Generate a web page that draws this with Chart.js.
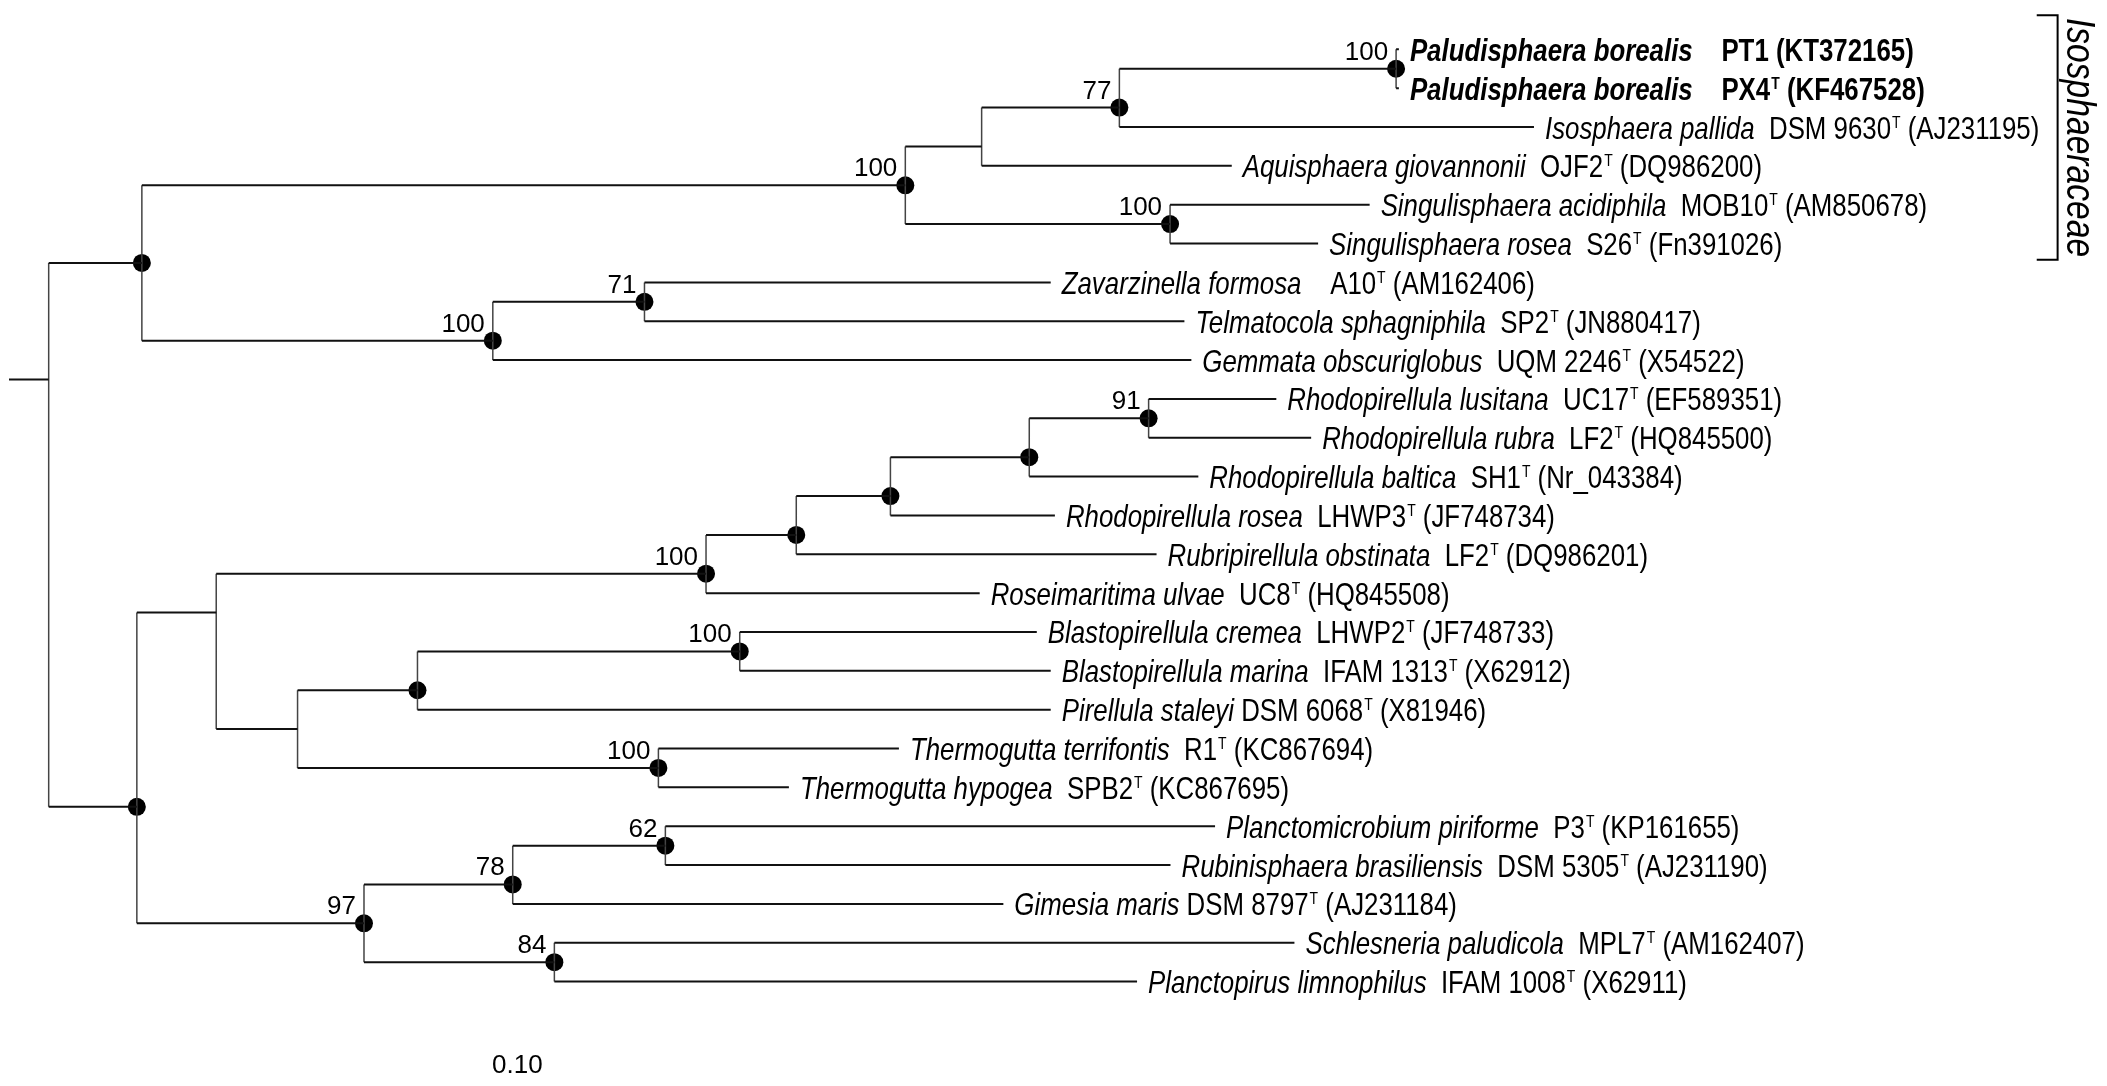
<!DOCTYPE html>
<html>
<head>
<meta charset="utf-8">
<title>Planctomycetes 16S rRNA tree</title>
<script src="https://cdn.jsdelivr.net/npm/chart.js@4.4.1/dist/chart.umd.min.js"></script>
<style>
  html, body { margin: 0; padding: 0; background: #fff; }
  #wrap { width: 2107px; height: 1086px; position: relative; }
</style>
</head>
<body>
<div id="wrap"><canvas id="treeChart"></canvas></div>
<script>
// Leaves, top to bottom (row index = y value)
const leafNames = [
    'Paludisphaera borealis', 'Paludisphaera borealis', 'Isosphaera pallida', 'Aquisphaera giovannonii',
    'Singulisphaera acidiphila', 'Singulisphaera rosea', 'Zavarzinella formosa', 'Telmatocola sphagniphila',
    'Gemmata obscuriglobus', 'Rhodopirellula lusitana', 'Rhodopirellula rubra', 'Rhodopirellula baltica',
    'Rhodopirellula rosea', 'Rubripirellula obstinata', 'Roseimaritima ulvae', 'Blastopirellula cremea',
    'Blastopirellula marina', 'Pirellula staleyi', 'Thermogutta terrifontis', 'Thermogutta hypogea',
    'Planctomicrobium piriforme', 'Rubinisphaera brasiliensis', 'Gimesia maris', 'Schlesneria paludicola',
    'Planctopirus limnophilus'
];
const leafStrains = ['PT1', 'PX4', 'DSM 9630', 'OJF2', 'MOB10', 'S26', 'A10', 'SP2', 'UQM 2246', 'UC17', 'LF2',
    'SH1', 'LHWP3', 'LF2', 'UC8', 'LHWP2', 'IFAM 1313', 'DSM 6068', 'R1', 'SPB2', 'P3', 'DSM 5305', 'DSM 8797',
    'MPL7', 'IFAM 1008'];
const leafTypeStrain = [0, 1, 1, 1, 1, 1, 1, 1, 1, 1, 1, 1, 1, 1, 1, 1, 1, 1, 1, 1, 1, 1, 1, 1, 1];
const leafAccessions = ['KT372165', 'KF467528', 'AJ231195', 'DQ986200', 'AM850678', 'Fn391026', 'AM162406',
    'JN880417', 'X54522', 'EF589351', 'HQ845500', 'Nr_043384', 'JF748734', 'DQ986201', 'HQ845508', 'JF748733',
    'X62912', 'X81946', 'KC867694', 'KC867695', 'KP161655', 'AJ231190', 'AJ231184', 'AM162407', 'X62911'];
// distance from the left edge of the tree to each tip
const leafDepths = [0.998, 0.998, 1.095, 0.878, 0.977, 0.940, 0.748, 0.844, 0.849, 0.910, 0.935, 0.854,
    0.751, 0.824, 0.697, 0.738, 0.748, 0.748, 0.639, 0.560, 0.866, 0.834, 0.714, 0.923, 0.810];

// Internal nodes: leaf range [from..to], second child starts at split
const nodeFrom  = [0, 0, 0, 0, 0, 0, 4, 6, 6, 9, 9, 9, 9, 9, 9, 9, 15, 15, 15, 18, 20, 20, 20, 23];
const nodeSplit = [9, 6, 4, 3, 2, 1, 5, 8, 7, 20, 15, 14, 13, 12, 11, 10, 18, 17, 16, 19, 23, 22, 21, 24];
const nodeTo    = [24, 8, 5, 3, 2, 1, 5, 8, 7, 24, 19, 14, 13, 12, 11, 10, 19, 17, 16, 19, 24, 22, 21, 24];
const nodeDepths = [0.0285, 0.0954, 0.6436, 0.6984, 0.7973, 0.9960, 0.8337, 0.3474, 0.4563, 0.0918, 0.1488,
    0.5005, 0.5653, 0.6329, 0.7326, 0.8183, 0.2072, 0.2933, 0.5247, 0.4663, 0.2549, 0.3617, 0.4713, 0.3916];
const nodeSupport = ['', '', '100', '', '77', '100', '100', '100', '71', '', '', '100', '', '', '', '91',
    '', '', '100', '100', '97', '78', '62', '84'];
const nodeDot = [0, 1, 1, 0, 1, 1, 1, 1, 1, 1, 0, 1, 1, 1, 1, 1, 0, 1, 1, 1, 1, 1, 1, 1];

const familyName = 'Isosphaeraceae';
const familyRows = [0, 5];
const scaleLabel = '0.10';

// ---- tree geometry from the arrays ----
const nodeY = i => nodeSplit[i] - 0.5;

function childOf(a, b) {
    if (a === b) return { x: leafDepths[a], y: a };
    const k = nodeFrom.findIndex((f, i) => f === a && nodeTo[i] === b);
    return { x: nodeDepths[k], y: nodeY(k) };
}

const GAP = { x: NaN, y: NaN };
const horizontals = [];
const verticals = [];
const dots = [];

// root stub
horizontals.push({ x: 0, y: nodeY(0) }, { x: nodeDepths[0], y: nodeY(0) }, GAP);

nodeFrom.forEach((from, i) => {
    const d = nodeDepths[i];
    const c1 = childOf(from, nodeSplit[i] - 1);
    const c2 = childOf(nodeSplit[i], nodeTo[i]);
    verticals.push({ x: d, y: c1.y }, { x: d, y: c2.y }, GAP);
    horizontals.push({ x: d, y: c1.y }, { x: c1.x, y: c1.y }, GAP);
    horizontals.push({ x: d, y: c2.y }, { x: c2.x, y: c2.y }, GAP);
    if (nodeDot[i]) dots.push({ x: d, y: nodeY(i) });
});

// ---- fonts ----
function pickFamily() {
    const c = document.createElement('canvas').getContext('2d');
    c.font = '30px "Liberation Sans Narrow", monospace';
    const a = c.measureText('abcdefghijklm').width;
    c.font = '30px monospace';
    const b = c.measureText('abcdefghijklm').width;
    return a !== b ? { family: '"Liberation Sans Narrow"', sx: 1 } : { family: '"Liberation Sans"', sx: 0.82 };
}
const NARROW = pickFamily();
const LABEL_SIZE = 31.5;

function putText(ctx, txt, px, py, font, sx) {
    ctx.save();
    ctx.font = font;
    ctx.translate(px, py);
    ctx.scale(sx, 1);
    ctx.fillText(txt, 0, 0);
    const w = ctx.measureText(txt).width * sx;
    ctx.restore();
    return w;
}

const treeLabels = {
    id: 'treeLabels',
    afterDatasetsDraw(chart) {
        const { ctx, scales: { x, y } } = chart;
        ctx.save();
        ctx.fillStyle = '#000';
        ctx.textBaseline = 'alphabetic';
        ctx.textAlign = 'left';
        const fam = NARROW.family, sx = NARROW.sx;

        // tip labels
        leafNames.forEach((name, i) => {
            const bold = i < 2 ? 'bold ' : '';
            const gapSpaces = i < 2 ? 4 : (i === 6 ? 4 : (i === 17 || i === 22 ? 1 : 2));
            let cx = x.getPixelForValue(leafDepths[i]) + 11;
            const by = y.getPixelForValue(i) + 11.5;
            cx += putText(ctx, name, cx, by, 'italic ' + bold + LABEL_SIZE + 'px ' + fam, sx);
            ctx.font = LABEL_SIZE + 'px ' + fam;
            cx += ctx.measureText(' ').width * sx * gapSpaces;
            cx += putText(ctx, leafStrains[i], cx, by, bold + LABEL_SIZE + 'px ' + fam, sx);
            if (leafTypeStrain[i]) {
                cx += 1;
                cx += putText(ctx, 'T', cx, by - 11, bold + '17px ' + fam, sx);
            }
            putText(ctx, ' (' + leafAccessions[i] + ')', cx, by, bold + LABEL_SIZE + 'px ' + fam, sx);
        });

        // bootstrap values
        ctx.textAlign = 'right';
        ctx.font = '26px "Liberation Sans", Arial, sans-serif';
        nodeSupport.forEach((s, i) => {
            if (!s) return;
            ctx.fillText(s, x.getPixelForValue(nodeDepths[i]) - 8, y.getPixelForValue(nodeY(i)) - 9);
        });

        // family bracket
        const bx = x.getPixelForValue(1.471);
        const bx0 = x.getPixelForValue(1.456);
        const top = y.getPixelForValue(familyRows[0] - 0.88);
        const bot = y.getPixelForValue(familyRows[1] + 0.42);
        ctx.strokeStyle = '#000';
        ctx.lineWidth = 2;
        ctx.beginPath();
        ctx.moveTo(bx0, top); ctx.lineTo(bx, top); ctx.lineTo(bx, bot); ctx.lineTo(bx0, bot);
        ctx.stroke();
        ctx.save();
        ctx.translate(x.getPixelForValue(1.486), (top + bot) / 2);
        ctx.rotate(Math.PI / 2);
        ctx.textAlign = 'center';
        ctx.textBaseline = 'middle';
        ctx.font = 'italic 41px ' + fam;
        ctx.scale(sx, 1);
        ctx.fillText(familyName, 0, 0);
        ctx.restore();

        // scale label
        ctx.textAlign = 'center';
        ctx.font = '26px "Liberation Sans", Arial, sans-serif';
        ctx.fillText(scaleLabel, x.getPixelForValue(0.365), y.getPixelForValue(26.35));
        ctx.restore();
    }
};

new Chart(document.getElementById('treeChart'), {
    type: 'scatter',
    data: {
        datasets: [
            {
                label: 'branches',
                data: horizontals,
                showLine: true,
                spanGaps: false,
                borderColor: '#111',
                borderWidth: 2,
                pointRadius: 0
            },
            {
                label: 'connectors',
                data: verticals,
                showLine: true,
                spanGaps: false,
                borderColor: '#444',
                borderWidth: 1.5,
                pointRadius: 0
            },
            {
                label: 'nodes',
                data: dots,
                pointRadius: 9,
                pointBackgroundColor: '#000',
                pointBorderColor: '#000',
                pointBorderWidth: 0
            }
        ]
    },
    options: {
        responsive: true,
        maintainAspectRatio: false,
        animation: false,
        events: [],
        layout: { padding: 0 },
        plugins: {
            legend: { display: false },
            tooltip: { enabled: false }
        },
        scales: {
            x: { type: 'linear', display: false, min: 0, max: 1.5 },
            y: { type: 'linear', display: false, reverse: true, min: -1.038, max: 26.456 }
        }
    },
    plugins: [treeLabels]
});
</script>
</body>
</html>
